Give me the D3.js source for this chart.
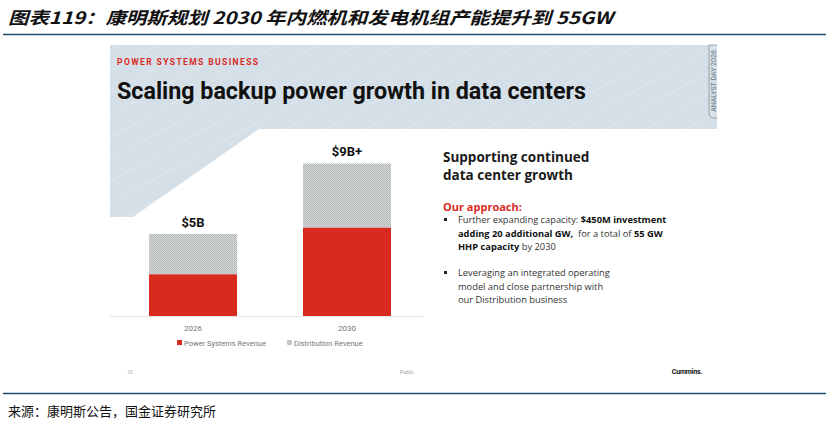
<!DOCTYPE html>
<html>
<head>
<meta charset="utf-8">
<script src="https://cdn.jsdelivr.net/npm/d3@7"></script>
<style>
  body { margin: 0; background: #fff; }
  svg { display: block; }
</style>
</head>
<body>
<div id="chart"></div>
<script>
const years = ["2026", "2030"];
const powerSystems = [2.55, 5.4];
const distribution = [2.45, 3.9];
const totalLabels = ["$5B", "$9B+"];
const seriesNames = ["Power Systems Revenue", "Distribution Revenue"];

const redColor = "#d92a1f";
const blueBg = "#d4dfe7";

const W = 829, H = 428;
const svg = d3.select("#chart").append("svg")
    .attr("width", W)
    .attr("height", H);

const defs = svg.append("defs");
// fine checker for the distribution segment
const chk = defs.append("pattern")
    .attr("id", "chk")
    .attr("width", 2).attr("height", 2)
    .attr("patternUnits", "userSpaceOnUse");
chk.append("rect").attr("width", 2).attr("height", 2).attr("fill", "#d5d8d9");
chk.append("rect").attr("width", 1).attr("height", 1).attr("fill", "#b4b9ba");
chk.append("rect").attr("x", 1).attr("y", 1).attr("width", 1).attr("height", 1).attr("fill", "#b4b9ba");

// faint diagonal lines on the blue header
const stripes = defs.append("pattern")
    .attr("id", "stripes")
    .attr("width", 40).attr("height", 22)
    .attr("patternUnits", "userSpaceOnUse");
stripes.append("rect").attr("width", 40).attr("height", 22).attr("fill", blueBg);
stripes.append("path")
    .attr("d", "M0,22 L40,0")
    .attr("stroke", "#ffffff").attr("stroke-opacity", 0.4).attr("stroke-width", 0.7);

// page title
svg.append("text")
    .attr("x", 8).attr("y", 24)
    .attr("font-family", "'Noto Sans CJK SC', sans-serif")
    .attr("font-size", 17)
    .attr("font-weight", "bold")
    .attr("font-style", "italic")
    .attr("fill", "#111")
    .attr("textLength", 605)
    .attr("lengthAdjust", "spacingAndGlyphs")
    .text("图表119：康明斯规划 2030 年内燃机和发电机组产能提升到 55GW");

svg.append("line")
    .attr("x1", 3).attr("x2", 826).attr("y1", 34.5).attr("y2", 34.5)
    .attr("stroke", "#1f4d6e").attr("stroke-width", 1.5);

// slide
const slide = svg.append("g");
slide.append("rect")
    .attr("x", 110).attr("y", 45).attr("width", 607).attr("height", 335)
    .attr("fill", "#fff");
slide.append("path")
    .attr("d", "M110,45 L717,45 L717,129 L259,129 L133,217 L110,217 Z")
    .attr("fill", "url(#stripes)");

slide.append("text")
    .attr("x", 117).attr("y", 65)
    .attr("font-family", "Roboto, sans-serif")
    .attr("font-size", 8.5).attr("font-weight", "bold")
    .attr("letter-spacing", 1.4)
    .attr("fill", redColor)
    .text("POWER SYSTEMS BUSINESS");

slide.append("text")
    .attr("x", 117).attr("y", 99)
    .attr("font-family", "Roboto, sans-serif")
    .attr("font-size", 23).attr("font-weight", "bold")
    .attr("fill", "#111")
    .attr("textLength", 469)
    .attr("lengthAdjust", "spacingAndGlyphs")
    .text("Scaling backup power growth in data centers");

// analyst day tab
slide.append("path")
    .attr("d", "M717,45 L709,45 L709,113 Q709,118 714,118 L717,118")
    .attr("fill", "none").attr("stroke", "#7d868d").attr("stroke-width", 0.7);
slide.append("text")
    .attr("transform", "translate(715.5,81) rotate(-90)")
    .attr("text-anchor", "middle")
    .attr("font-family", "Roboto, sans-serif")
    .attr("font-size", 7)
    .attr("fill", "#6f7880")
    .text("ANALYST DAY 2026");

// chart
const x = d3.scaleBand()
    .domain(years)
    .range([83, 457])
    .padding(0.4286);
const y = d3.scaleLinear()
    .domain([0, 10])
    .range([316, 152]);

const rows = years.map((yr, i) => ({year: yr, power: powerSystems[i], dist: distribution[i]}));
const stacked = d3.stack().keys(["power", "dist"])(rows);
const fills = [redColor, "url(#chk)"];

const chart = slide.append("g");
chart.selectAll("g.layer")
    .data(stacked)
    .enter().append("g")
    .attr("class", "layer")
    .attr("fill", (d, i) => fills[i])
    .selectAll("rect")
    .data(d => d)
    .enter().append("rect")
    .attr("x", d => x(d.data.year))
    .attr("y", d => y(d[1]))
    .attr("width", x.bandwidth())
    .attr("height", d => y(d[0]) - y(d[1]));

chart.append("line")
    .attr("x1", 110).attr("x2", 423)
    .attr("y1", y(0) + 0.5).attr("y2", y(0) + 0.5)
    .attr("stroke", "#e3e3e3").attr("stroke-width", 1);

chart.selectAll("text.total")
    .data(rows)
    .enter().append("text")
    .attr("class", "total")
    .attr("x", d => x(d.year) + x.bandwidth() / 2)
    .attr("y", d => y(d.power + d.dist) - 7)
    .attr("text-anchor", "middle")
    .attr("font-family", "Roboto, sans-serif")
    .attr("font-size", 13).attr("font-weight", "bold")
    .attr("fill", "#111")
    .text((d, i) => totalLabels[i]);

const xAxis = chart.append("g")
    .attr("transform", `translate(0,${y(0)})`)
    .call(d3.axisBottom(x).tickSize(0).tickPadding(9));
xAxis.select(".domain").remove();
xAxis.selectAll("text")
    .attr("font-family", "Roboto, sans-serif")
    .attr("font-size", 8)
    .attr("fill", "#777");

// legend
const legend = chart.append("g").attr("transform", "translate(177,343)");
const legendX = [0, 110];
seriesNames.forEach((name, i) => {
    const g = legend.append("g").attr("transform", `translate(${legendX[i]},0)`);
    g.append("rect")
        .attr("x", 0).attr("y", -3).attr("width", 5).attr("height", 5)
        .attr("fill", fills[i]);
    g.append("text")
        .attr("x", 7).attr("y", 2.5)
        .attr("font-family", "Roboto, sans-serif")
        .attr("font-size", 7.5)
        .attr("fill", "#777")
        .text(name);
});

// right text block
const tf = "'Open Sans', sans-serif";
const rt = slide.append("g").attr("font-family", tf).attr("fill", "#1a1a1a");
rt.append("text").attr("x", 443).attr("y", 162)
    .attr("font-size", 13.5).attr("font-weight", "bold")
    .text("Supporting continued");
rt.append("text").attr("x", 443).attr("y", 180)
    .attr("font-size", 13.5).attr("font-weight", "bold")
    .text("data center growth");
rt.append("text").attr("x", 443).attr("y", 211)
    .attr("font-size", 11).attr("font-weight", "bold")
    .attr("fill", redColor)
    .text("Our approach:");

const bullets = [
    [[["Further expanding capacity: ", false], ["$450M investment", true]],
     [["adding 20 additional GW,", true], ["  for a total of ", false], ["55 GW", true]],
     [["HHP capacity", true], [" by 2030", false]]],
    [[["Leveraging an integrated operating", false]],
     [["model and close partnership with", false]],
     [["our Distribution business", false]]]
];
const bulletY = [223, 276];
bullets.forEach((lines, bi) => {
    rt.append("rect")
        .attr("x", 444).attr("y", bulletY[bi] - 5)
        .attr("width", 3).attr("height", 3)
        .attr("fill", "#222");
    lines.forEach((parts, li) => {
        const t = rt.append("text")
            .attr("x", 458).attr("y", bulletY[bi] + li * 13.5)
            .attr("font-size", 9.3)
            .attr("fill", "#333")
            .attr("xml:space", "preserve")
            .style("white-space", "pre");
        parts.forEach(p => {
            t.append("tspan")
                .attr("font-weight", p[1] ? "bold" : "normal")
                .attr("fill", p[1] ? "#111" : "#333")
                .text(p[0]);
        });
    });
});

// slide footer
slide.append("text").attr("x", 127).attr("y", 374)
    .attr("font-family", "Roboto, sans-serif").attr("font-size", 5)
    .attr("fill", "#aaa").text("10");
slide.append("text").attr("x", 407).attr("y", 374)
    .attr("text-anchor", "middle")
    .attr("font-family", "Roboto, sans-serif").attr("font-size", 5)
    .attr("fill", "#999").text("Public");
slide.append("text").attr("x", 687).attr("y", 374)
    .attr("text-anchor", "middle")
    .attr("font-family", "Roboto, sans-serif").attr("font-size", 7)
    .attr("font-weight", "bold").attr("letter-spacing", -0.2)
    .attr("fill", "#111").text("Cummins.");

// bottom rule + source
svg.append("line")
    .attr("x1", 3).attr("x2", 826).attr("y1", 393.5).attr("y2", 393.5)
    .attr("stroke", "#1f4d6e").attr("stroke-width", 1.5);
svg.append("text")
    .attr("x", 8).attr("y", 416)
    .attr("font-family", "'Noto Sans CJK SC', sans-serif")
    .attr("font-size", 13)
    .attr("fill", "#111")
    .text("来源：康明斯公告，国金证券研究所");
</script>
</body>
</html>
